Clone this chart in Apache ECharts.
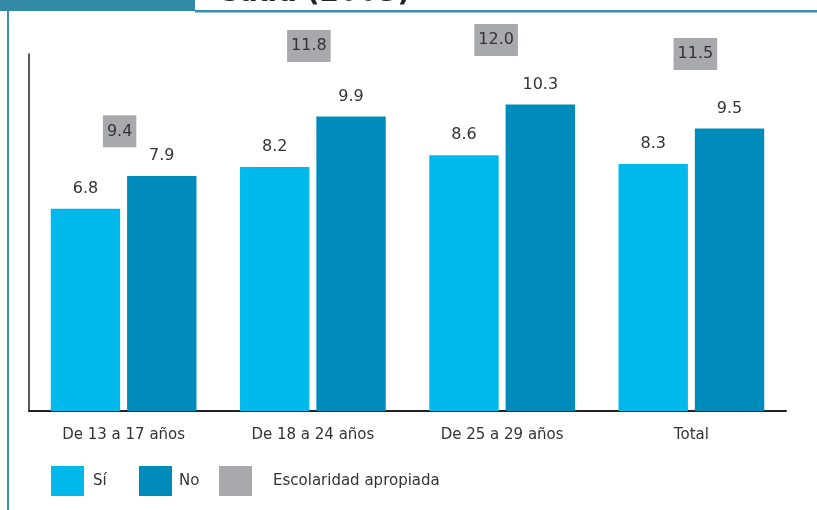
<!DOCTYPE html>
<html><head><meta charset="utf-8">
<script src="https://cdn.jsdelivr.net/npm/echarts@6/dist/echarts.min.js"></script>
<style>html,body{margin:0;padding:0;background:#fff;overflow:hidden}#c{width:817px;height:510px}</style>
</head><body><div id="c"></div>
<script>
const categories = ['De 13 a 17 años', 'De 18 a 24 años', 'De 25 a 29 años', 'Total'];
const seriesNames = ['Sí', 'No', 'Escolaridad apropiada'];
const si = [6.8, 8.2, 8.6, 8.3];
const no = [7.9, 9.9, 10.3, 9.5];
const escolaridad = [9.4, 11.8, 12.0, 11.5];
const yMax = 12;

// label placement tweaks (style only)
const grayOffsets = [[-4, 0], [-4, -14], [-6, -14], [4, -15]];

const colors = { si: '#00b9eb', no: '#008cba', gray: '#a7a9ac', frame: '#3a8fab' };
const FONT = 'DejaVu Sans';

const chart = echarts.init(document.getElementById('c'), null, { renderer: 'canvas' });

chart.setOption({
  animation: false,
  backgroundColor: '#ffffff',
  grid: { left: 29, right: 31, top: 54, bottom: 99, containLabel: false },
  xAxis: {
    type: 'category',
    data: categories,
    axisLine: { show: true, lineStyle: { color: '#222', width: 2 } },
    axisTick: { show: false },
    axisLabel: { color: '#333', fontFamily: FONT, fontSize: 15, margin: 17 }
  },
  yAxis: {
    type: 'value',
    min: 0, max: yMax,
    axisLine: { show: true, lineStyle: { color: '#222', width: 1.5 } },
    axisTick: { show: false },
    axisLabel: { show: false },
    splitLine: { show: false }
  },
  legend: [
    { data: [seriesNames[0]], left: 51, top: 466, padding: 0, itemWidth: 33, itemHeight: 30, icon: 'rect',
      textStyle: { color: '#333', fontFamily: FONT, fontSize: 15, padding: [0, 0, 0, 4] } },
    { data: [seriesNames[1]], left: 139, top: 466, padding: 0, itemWidth: 33, itemHeight: 30, icon: 'rect',
      textStyle: { color: '#333', fontFamily: FONT, fontSize: 15, padding: [0, 0, 0, 2] } },
    { data: [seriesNames[2]], left: 219, top: 466, padding: 0, itemWidth: 33, itemHeight: 30, icon: 'rect',
      itemStyle: { color: colors.gray, opacity: 1 },
      textStyle: { color: '#333', fontFamily: FONT, fontSize: 15, padding: [0, 0, 0, 16] } }
  ],
  series: [
    {
      name: seriesNames[0], type: 'bar', data: si, barGap: '10%', barCategoryGap: '23%',
      itemStyle: { color: colors.si },
      label: { show: true, position: 'top', distance: 12, color: '#333', fontFamily: FONT, fontSize: 16,
        formatter: p => p.value.toFixed(1) }
    },
    {
      name: seriesNames[1], type: 'bar', data: no,
      itemStyle: { color: colors.no },
      label: { show: true, position: 'top', distance: 12, color: '#333', fontFamily: FONT, fontSize: 16,
        formatter: p => p.value.toFixed(1) }
    },
    {
      name: seriesNames[2], type: 'scatter', symbolSize: 0, clip: false,
      itemStyle: { color: colors.gray, opacity: 1 },
      data: escolaridad.map((v, i) => ({
        value: v,
        label: { offset: grayOffsets[i] }
      })),
      label: { show: true, position: 'inside', color: '#333', fontFamily: FONT, fontSize: 16,
        backgroundColor: colors.gray, padding: [7, 4, 7, 4], lineHeight: 18,
        formatter: p => p.value.toFixed(1) },
      z: 5
    }
  ],
  graphic: [
    { type: 'rect', shape: { x: 0, y: 0, width: 195, height: 11 }, style: { fill: '#338aa6' } },
    { type: 'rect', shape: { x: 195, y: 10, width: 622, height: 2.5 }, style: { fill: colors.frame } },
    { type: 'rect', shape: { x: 7, y: 11, width: 2, height: 499 }, style: { fill: colors.frame } },
    { type: 'text', left: 219, top: -20, style: { text: 'edad (2005)', fill: '#222',
        font: 'bold 28px "DejaVu Sans"' } }
  ]
});
</script>
</body></html>
